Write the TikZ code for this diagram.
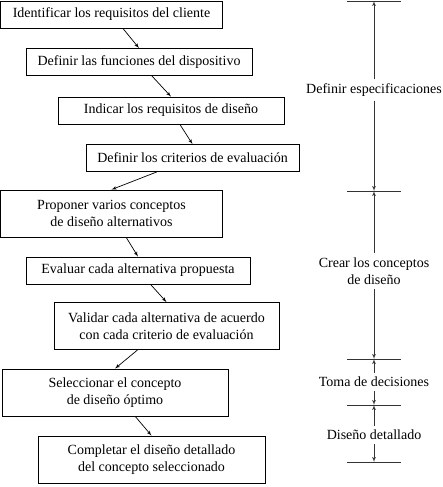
\documentclass[tikz,border=0pt]{standalone}
\usepackage{fontspec}
\setmainfont{Liberation Serif}
\usetikzlibrary{arrows}

\begin{document}
\begin{tikzpicture}
[x=1pt, y=-1pt,
 font=\fontsize{14}{17.5}\selectfont,
 stepbox/.style ={rectangle, draw=black, line width=0.8pt, align=center, minimum width=225pt, minimum height=27pt, inner sep=0pt},
 tallbox/.style ={stepbox, minimum height=47pt},
 stage/.style ={align=center, inner sep=4pt},
 line/.style ={draw, line width=0.7pt, -latex'},
 dim/.style ={draw, line width=0.7pt, black!80, -latex'},
 tick/.style ={draw, line width=0.7pt, black!80}]
\useasboundingbox (0,0) rectangle (443,487);
% pasos del proceso
\draw (111.5, 14.5) node[stepbox, minimum width=222pt] (req) {Identificar los requisitos del cliente};
\draw (139, 62) node[stepbox, minimum width=226pt] (fun) {Definir las funciones del dispositivo};
\draw (171, 110.5) node[stepbox, minimum width=226pt] (dis) {Indicar los requisitos de diseño};
\draw (192.5, 158) node[stepbox, minimum width=213pt] (crit) {Definir los criterios de evaluación};
\draw (111.5, 213.5) node[tallbox, minimum width=222pt] (prop) {Proponer varios conceptos\\de diseño alternativos};
\draw (138, 270.5) node[stepbox, minimum width=224pt] (eval) {Evaluar cada alternativa propuesta};
\draw (166.5, 326) node[tallbox] (val) {Validar cada alternativa de acuerdo\\con cada criterio de evaluación};
\draw (115, 392.5) node[tallbox, minimum width=226pt] (sel) {Seleccionar el concepto\\de diseño óptimo};
\draw (151.5, 459.5) node[tallbox, minimum width=227pt] (comp) {Completar el diseño detallado\\del concepto seleccionado};
\draw[line] (req) -- (fun.north);
\draw[line] (fun) -- (dis.north);
\draw[line] (dis) -- (crit.north);
\draw[line] (crit) -- (prop.north);
\draw[line] (prop) -- (eval.north);
\draw[line] (eval) -- (val.north);
\draw[line] (val) -- (sel.north);
\draw[line] (sel) -- (comp.north);
% etapas
\coordinate (m0) at (374, 1);
\coordinate (m1) at (374, 191);
\coordinate (m2) at (374, 359);
\coordinate (m3) at (374, 405);
\coordinate (m4) at (374, 462);
\draw[tick] (347, 1) -- (401, 1);
\draw[tick] (347, 191) -- (401, 191);
\draw[tick] (347, 359) -- (401, 359);
\draw[tick] (347, 405) -- (401, 405);
\draw[tick] (347, 462) -- (401, 462);
\draw (374, 90) node[stage] (spec) {Definir especificaciones};
\draw (374, 271) node[stage] (conc) {Crear los conceptos\\de diseño};
\draw (374, 382) node[stage] (dec) {Toma de decisiones};
\draw (374, 435) node[stage] (det) {Diseño detallado};
\draw[dim] (spec) -- (m0);
\draw[dim] (spec) -- (m1);
\draw[dim] (conc) -- (m1);
\draw[dim] (conc) -- (m2);
\draw[dim] (dec) -- (m2);
\draw[dim] (dec) -- (m3);
\draw[dim] (det) -- (m3);
\draw[dim] (det) -- (m4);
\end{tikzpicture}
\end{document}
